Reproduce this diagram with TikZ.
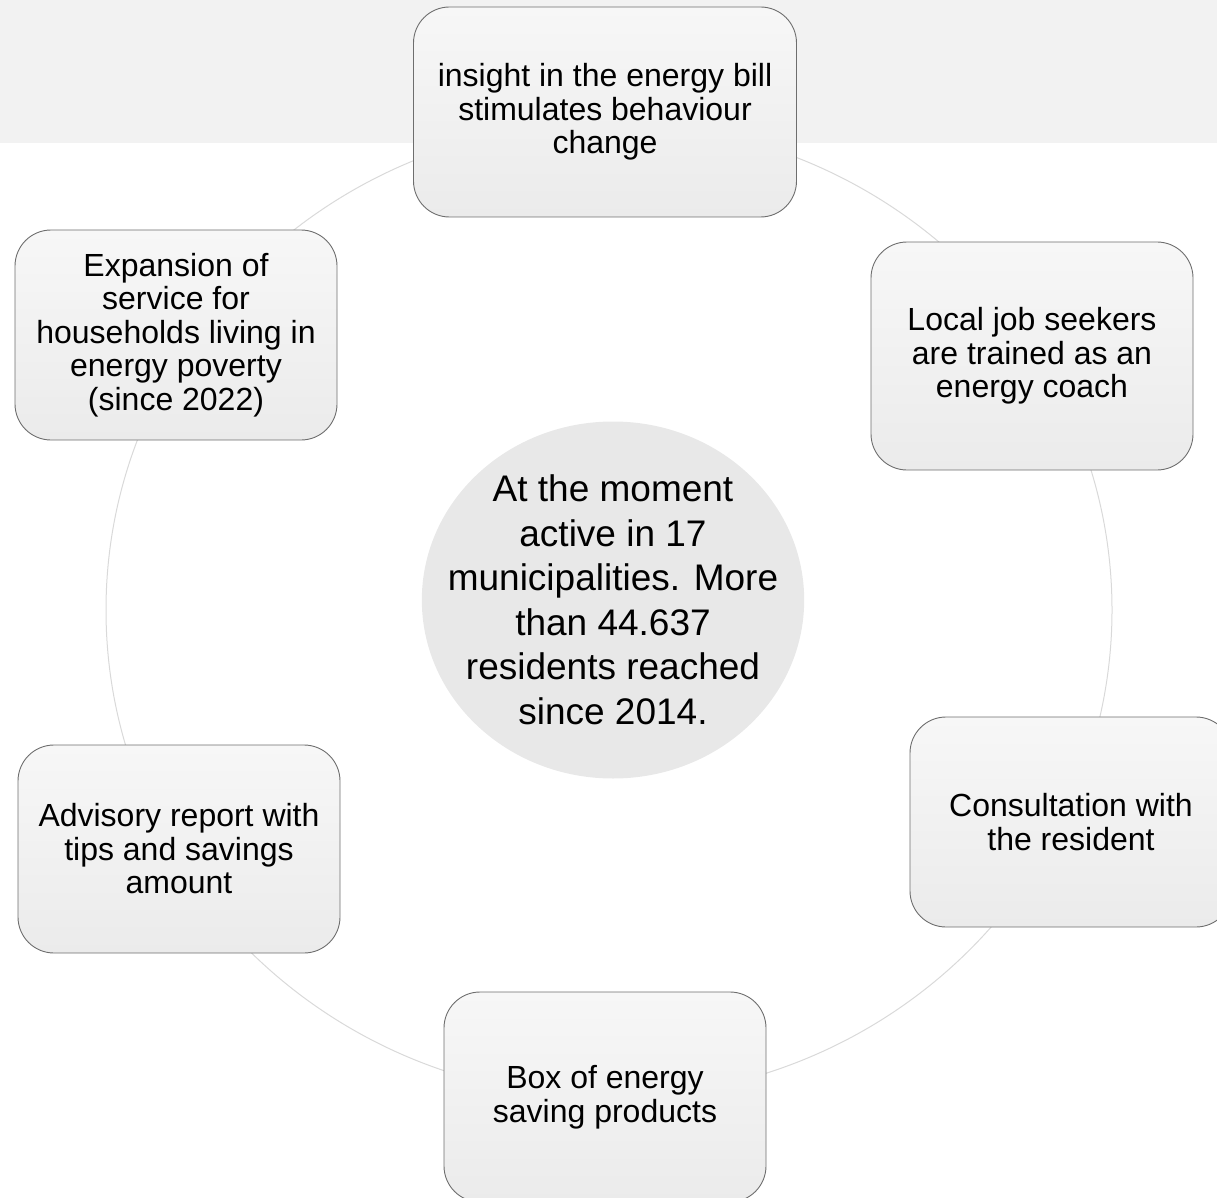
\documentclass[tikz,border=0pt]{standalone}
\usepackage{fontspec}
\setmainfont{Liberation Sans}
\usetikzlibrary{shapes.geometric}
\usepackage{color}
\definecolor{bandgrey}{HTML}{F2F2F2}
\definecolor{boxtop}{HTML}{F7F7F7}
\definecolor{boxbottom}{HTML}{EBEBEB}
\definecolor{boxline}{HTML}{6E6E6E}
\definecolor{hubgrey}{HTML}{E8E8E8}
\definecolor{ringgrey}{HTML}{D9D9D9}
\tikzstyle{stage} = [rectangle, rounded corners=36pt, minimum width=322pt, minimum height=210pt, inner sep=0pt, align=center, text centered, draw=boxline, line width=0.9pt, top color=boxtop, bottom color=boxbottom, font=\fontsize{32}{33.5}\selectfont]
\tikzstyle{hub} = [ellipse, minimum width=381pt, minimum height=357pt, inner xsep=-30pt, inner ysep=-4pt, align=center, fill=hubgrey, font=\fontsize{37}{44.5}\selectfont]
\tikzstyle{ring} = [ellipse, minimum width=1006pt, minimum height=975pt, draw=ringgrey, line width=1pt]

\begin{document}
\begin{tikzpicture}[x=1pt, y=-1pt]
        \useasboundingbox (0,0) rectangle (1217,1198);
        % Background
        \fill [bandgrey] (0,0) rectangle (1217,143);
        \node (ring) [ring] at (609,610) {};
        \node (hub) [hub] at (613,600) {At the moment\\active in 17\\municipalities. More\\than 44.637\\residents reached\\since 2014.};

        % Nodes
        \node (insight) [stage, minimum width=383pt] at (605,112) {insight in the energy bill\\stimulates behaviour\\change};
        \node (coach) [stage, minimum height=228pt] at (1032,356) {Local job seekers\\are trained as an\\energy coach};
        \node (consult) [stage] at (1071,822) {Consultation with\\the resident};
        \node (products) [stage] at (605,1097) {Box of energy\\saving products};
        \node (report) [stage, minimum height=208pt] at (179,849) {Advisory report with\\tips and savings\\amount};
        \node (expansion) [stage] at (176,335) {Expansion of\\service for\\households living in\\energy poverty\\(since 2022)};
    \end{tikzpicture}
\end{document}
